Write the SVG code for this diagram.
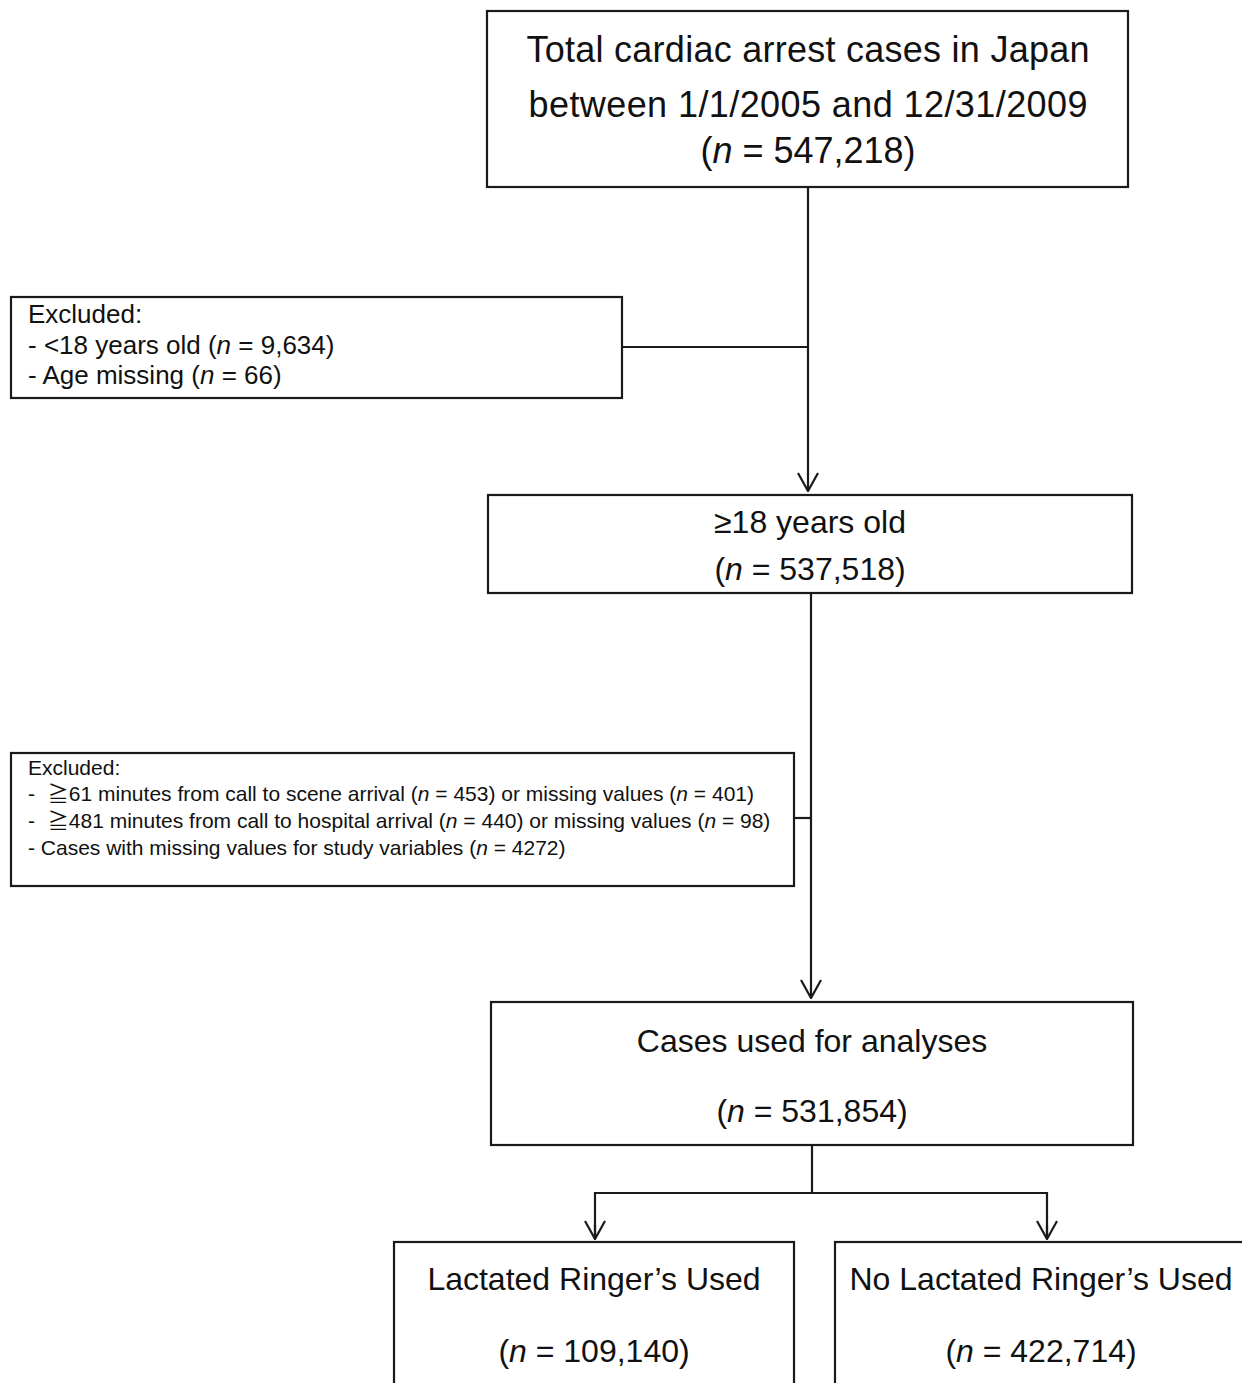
<svg xmlns="http://www.w3.org/2000/svg" width="1242" height="1383" viewBox="0 0 1242 1383">
<defs>
<style>
.box{fill:#fff;stroke:#1a1a1a;stroke-width:2.2}
.ln{fill:none;stroke:#1a1a1a;stroke-width:2.2}
text{font-family:"Liberation Sans","Noto Sans CJK JP",Arial,sans-serif;fill:#111}
.big{font-size:36px;text-anchor:middle}
.mid{font-size:32px;text-anchor:middle}
.ex1{font-size:26px}
.ex2{font-size:21px}
</style>
<marker id="arr" viewBox="0 0 20 22" refX="19" refY="11" markerWidth="20" markerHeight="22" markerUnits="userSpaceOnUse" orient="auto">
<path d="M1,1 L19,11 L1,21" fill="none" stroke="#1a1a1a" stroke-width="2.2"/>
</marker>
</defs>
<rect width="1242" height="1383" fill="#fff"/>
<g id="connectors">
<line class="ln" x1="808" y1="187" x2="808" y2="491" marker-end="url(#arr)"/>
<line class="ln" x1="622" y1="347" x2="808" y2="347"/>
<line class="ln" x1="811" y1="593" x2="811" y2="998" marker-end="url(#arr)"/>
<line class="ln" x1="794" y1="818" x2="811" y2="818"/>
<line class="ln" x1="812" y1="1145" x2="812" y2="1193"/>
<polyline class="ln" points="595,1239 595,1193 1047,1193 1047,1239"/>
<line class="ln" x1="595" y1="1225" x2="595" y2="1239" marker-end="url(#arr)"/>
<line class="ln" x1="1047" y1="1225" x2="1047" y2="1239" marker-end="url(#arr)"/>
</g>
<g id="total">
<rect class="box" x="487" y="11" width="641" height="176"/>
<text class="big" x="808" y="62" textLength="563">Total cardiac arrest cases in Japan</text>
<text class="big" x="808" y="117" textLength="559">between 1/1/2005 and 12/31/2009</text>
<text class="big" x="808" y="163">(<tspan font-style="italic">n</tspan> = 547,218)</text>
</g>
<g id="excluded1">
<rect class="box" x="11" y="297" width="611" height="101"/>
<text class="ex1" x="28" y="323">Excluded:</text>
<text class="ex1" x="28" y="354">- &lt;18 years old (<tspan font-style="italic">n</tspan> = 9,634)</text>
<text class="ex1" x="28" y="384">- Age missing (<tspan font-style="italic">n</tspan> = 66)</text>
</g>
<g id="adults">
<rect class="box" x="488" y="495" width="644" height="98"/>
<text class="mid" x="810" y="533">≥18 years old</text>
<text class="mid" x="810" y="580">(<tspan font-style="italic">n</tspan> = 537,518)</text>
</g>
<g id="excluded2">
<rect class="box" x="11" y="753" width="783" height="133"/>
<text class="ex2" x="28" y="775">Excluded:</text>
<text class="ex2" x="28" y="801">-&#8196; ≧61 minutes from call to scene arrival (<tspan font-style="italic">n</tspan> = 453) or missing values (<tspan font-style="italic">n</tspan> = 401)</text>
<text class="ex2" x="28" y="828">-&#8196; ≧481 minutes from call to hospital arrival (<tspan font-style="italic">n</tspan> = 440) or missing values (<tspan font-style="italic">n</tspan> = 98)</text>
<text class="ex2" x="28" y="855">- Cases with missing values for study variables (<tspan font-style="italic">n</tspan> = 4272)</text>
</g>
<g id="analysed">
<rect class="box" x="491" y="1002" width="642" height="143"/>
<text class="mid" x="812" y="1052">Cases used for analyses</text>
<text class="mid" x="812" y="1122">(<tspan font-style="italic">n</tspan> = 531,854)</text>
</g>
<g id="lr-used">
<rect class="box" x="394" y="1242" width="400" height="160"/>
<text class="mid" x="594" y="1290">Lactated Ringer’s Used</text>
<text class="mid" x="594" y="1362">(<tspan font-style="italic">n</tspan> = 109,140)</text>
</g>
<g id="lr-not-used">
<rect class="box" x="835" y="1242" width="420" height="160"/>
<text class="mid" x="1041" y="1290">No Lactated Ringer’s Used</text>
<text class="mid" x="1041" y="1362">(<tspan font-style="italic">n</tspan> = 422,714)</text>
</g>
</svg>
